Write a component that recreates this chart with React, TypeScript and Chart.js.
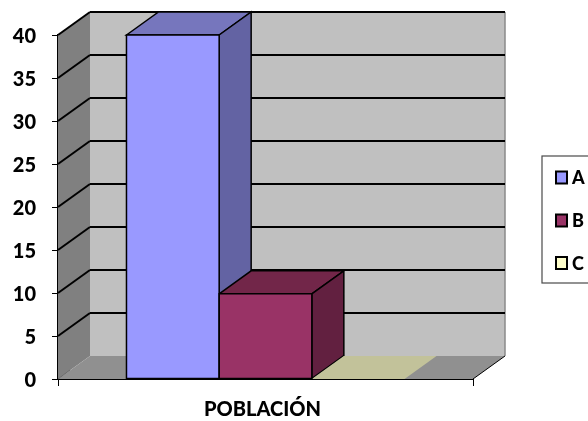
import React, { useEffect, useRef } from "react";
import { Chart, registerables } from "chart.js";

Chart.register(...registerables);

const categories = ["POBLACIÓN"];
const seriesNames = ["A", "B", "C"];
const seriesValues = [[40], [9.9], [0]];
const frontColors = ["#9999ff", "#993366", "#ffffcc"];
const topColors = ["#7676bd", "#722649", "#c2c29a"];
const sideColors = ["#6363a3", "#622040", "#a5a582"];
const yTicks = { min: 0, max: 40, stepSize: 5 };

const DX = 32;
const DY = -23;
const FONT = "Lato, Calibri, sans-serif";

function poly(ctx: CanvasRenderingContext2D, pts: number[][], fill?: string, stroke?: string, lw = 1.5) {
  ctx.beginPath();
  pts.forEach((p, i) => (i ? ctx.lineTo(p[0], p[1]) : ctx.moveTo(p[0], p[1])));
  ctx.closePath();
  if (fill) {
    ctx.fillStyle = fill;
    ctx.fill();
  }
  if (stroke) {
    ctx.strokeStyle = stroke;
    ctx.lineWidth = lw;
    ctx.stroke();
  }
}

function line(ctx: CanvasRenderingContext2D, x1: number, y1: number, x2: number, y2: number, color = "#000", lw = 2) {
  ctx.beginPath();
  ctx.moveTo(x1, y1);
  ctx.lineTo(x2, y2);
  ctx.strokeStyle = color;
  ctx.lineWidth = lw;
  ctx.stroke();
}

const depthPlugin = {
  id: "depth3d",
  beforeDatasetsDraw(chart: any) {
    const ctx: CanvasRenderingContext2D = chart.ctx;
    const { left: L, right: R, top: T, bottom: B } = chart.chartArea;
    const y = chart.scales.y;
    ctx.save();
    // walls and floor
    poly(ctx, [[L, T], [L + DX, T + DY], [L + DX, B + DY], [L, B]], "#808080");
    poly(ctx, [[L + DX, T + DY], [R + DX, T + DY], [R + DX, B + DY], [L + DX, B + DY]], "#c0c0c0");
    poly(ctx, [[L, B], [L + DX, B + DY], [R + DX, B + DY], [R, B]], "#909090");
    line(ctx, R + DX, T + DY, R + DX, B + DY, "#8a8a8a", 1.5);
    // gridlines following the wall
    y.ticks.forEach((t: any) => {
      const py = y.getPixelForValue(t.value);
      if (t.value > 0) {
        line(ctx, L, py, L + DX, py + DY);
        line(ctx, L + DX, py + DY, R + DX, py + DY);
      }
    });
    line(ctx, R, B, R + DX, B + DY, "#000", 1);
    line(ctx, L, B, L + 12, B - 9, "#6a6a6a", 1);
    // depth faces of each bar
    seriesValues.forEach((_, i) => {
      const el = chart.getDatasetMeta(i).data[0];
      const x0 = el.x - el.width / 2;
      const x1 = el.x + el.width / 2;
      const top = el.y;
      const base = el.base;
      const flat = Math.abs(base - top) < 1;
      const stroke = flat ? undefined : "#000";
      poly(ctx, [[x0, top], [x0 + DX, top + DY], [x1 + DX, top + DY], [x1, top]], topColors[i], stroke);
      if (!flat) {
        poly(ctx, [[x1, top], [x1 + DX, top + DY], [x1 + DX, base + DY], [x1, base]], sideColors[i], stroke);
      }
    });
    ctx.restore();
  },
  afterDatasetsDraw(chart: any) {
    const ctx: CanvasRenderingContext2D = chart.ctx;
    ctx.save();
    seriesValues.forEach((_, i) => {
      const el = chart.getDatasetMeta(i).data[0];
      if (Math.abs(el.base - el.y) < 1) return;
      const x0 = el.x - el.width / 2;
      const x1 = el.x + el.width / 2;
      poly(ctx, [[x0, el.y], [x1, el.y], [x1, el.base], [x0, el.base]], undefined, "#000");
    });
    ctx.restore();
  },
  afterDraw(chart: any) {
    const ctx: CanvasRenderingContext2D = chart.ctx;
    ctx.save();
    // legend
    ctx.fillStyle = "#ffffff";
    ctx.fillRect(542, 156, 60, 127);
    ctx.strokeStyle = "#4a4a4a";
    ctx.lineWidth = 1.2;
    ctx.strokeRect(542, 156, 60, 127);
    const rows = [177.5, 220.5, 263];
    seriesNames.forEach((name, i) => {
      ctx.fillStyle = frontColors[i];
      ctx.fillRect(556, rows[i] - 6, 11, 12);
      ctx.strokeStyle = "#000";
      ctx.lineWidth = 2;
      ctx.strokeRect(556, rows[i] - 6, 11, 12);
      ctx.fillStyle = "#000";
      ctx.font = `900 18px ${FONT}`;
      ctx.textBaseline = "middle";
      ctx.textAlign = "left";
      ctx.fillText(name, 572, rows[i] + 1);
    });
    ctx.restore();
  },
};

export default function App() {
  const ref = useRef<HTMLCanvasElement>(null);
  useEffect(() => {
    const chart = new Chart(ref.current!, {
      type: "bar",
      data: {
        labels: categories,
        datasets: seriesNames.map((name, i) => ({
          label: name,
          data: seriesValues[i],
          backgroundColor: frontColors[i],
          borderWidth: 0,
          barPercentage: 1,
          categoryPercentage: 0.67,
        })),
      },
      options: {
        responsive: false,
        animation: false,
        devicePixelRatio: 1,
        layout: { padding: { left: 0, right: 115, top: 35, bottom: 0 } },
        plugins: { legend: { display: false }, tooltip: { enabled: false } },
        scales: {
          x: {
            afterFit: (s: any) => {
              s.height = 42;
            },
            grid: { drawOnChartArea: false, drawTicks: true, tickLength: 7, color: "#000", lineWidth: 1 },
            border: { display: true, color: "#000", width: 2 },
            ticks: {
              color: "#000",
              padding: 12,
              labelOffset: -3,
              maxRotation: 0,
              font: { family: FONT, weight: "900", size: 20 },
            },
          },
          y: {
            min: yTicks.min,
            max: yTicks.max,
            afterFit: (s: any) => {
              s.width = 58;
            },
            grid: { drawOnChartArea: false, drawTicks: true, tickLength: 6, color: "#000", lineWidth: 1 },
            border: { display: true, color: "#000", width: 2 },
            ticks: {
              stepSize: yTicks.stepSize,
              color: "#000",
              padding: 16,
              labelOffset: 2,
              font: { family: FONT, weight: "900", size: 20 },
            },
          },
        },
      },
      plugins: [depthPlugin],
    } as any);
    return () => chart.destroy();
  }, []);
  return (
    <div style={{ position: "fixed", left: 0, top: 0, width: 588, height: 421, background: "#fff", overflow: "hidden" }}>
      <canvas ref={ref} width={588} height={421} style={{ display: "block" }} />
    </div>
  );
}
